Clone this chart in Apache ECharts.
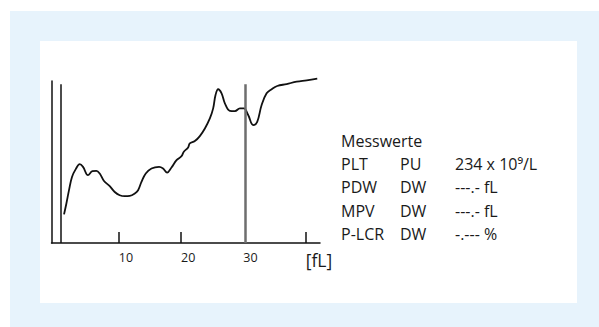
<!DOCTYPE html>
<html>
<head>
<meta charset="utf-8">
<style>
  html, body { margin: 0; padding: 0; background: #ffffff; }
  #chart { width: 599px; height: 327px; }
</style>
<script src="https://cdn.jsdelivr.net/npm/echarts@6/dist/echarts.min.js"></script>
</head>
<body>
<div id="chart"></div>
<script>
// Platelet volume distribution curve (relative count vs. volume in fL)
const volumes = [1.21, 1.59, 2.01, 2.49, 3.09, 3.73, 4.26, 5.06, 5.77, 6.41, 6.94, 7.63, 8.55, 9.35,
  10.15, 10.95, 11.76, 12.57, 13.1, 13.64, 14.33, 15.25, 16.47, 17.11, 17.76, 18.46, 19.27, 20.07,
  20.44, 21.13, 21.4, 22.21, 23.01, 23.82, 24.62, 25.15, 25.53, 25.95, 26.5, 27.03, 27.83, 28.64,
  29.44, 30.08, 30.77, 31.58, 32.22, 32.93, 33.73, 34.53, 35.43, 36.94, 38.55, 40.16, 41.86];
const counts = [17.7, 24.4, 32.6, 40.8, 45.6, 48.7, 47.0, 41.9, 44.3, 44.5, 42.9, 38.3, 35.1, 31.5,
  29.5, 28.9, 29.1, 30.6, 32.6, 37.7, 42.9, 46.0, 47.0, 46.0, 43.5, 46.6, 51.1, 53.6,
  56.3, 59.0, 61.5, 62.9, 66.0, 70.7, 76.9, 83.1, 91.3, 94.9, 92.4, 86.2, 81.6, 81.4,
  83.1, 83.1, 79.0, 72.8, 74.8, 85.2, 92.4, 94.9, 96.9, 98.1, 99.6, 100.4, 101.4];

// Lower and upper discriminator positions (fL)
const discriminators = [0.72, 30.35];
const discriminatorHeight = 98;

// Axis ticks and labels
const tickValues = [10, 20, 40];
const labelValues = [10, 20, 30, 40];
const unitLabel = '[fL]';

// Result table
const tableTitle = 'Messwerte';
const paramNames = ['PLT', 'PDW', 'MPV', 'P-LCR'];
const paramFlags = ['PU', 'DW', 'DW', 'DW'];
const paramValues = ['234 x 10\u2079/L', '---.- fL', '---.- fL', '-.--- %'];

const FONT = '"Open Sans", "Noto Sans", sans-serif';
const TEXT_COLOR = '#1a1a1a';

const chart = echarts.init(document.getElementById('chart'), null, { renderer: 'svg' });

const curve = volumes.map((v, i) => [v, counts[i]]);

const tableElements = [];
const rowYs = [141, 163.5, 187, 210.5, 234];
tableElements.push({
  type: 'text', x: 341, y: rowYs[0],
  style: { text: tableTitle, font: '16px ' + FONT, fill: TEXT_COLOR, verticalAlign: 'middle' }
});
paramNames.forEach((name, i) => {
  const y = rowYs[i + 1];
  [[341, name], [400, paramFlags[i]], [455, paramValues[i]]].forEach(([x, t]) => {
    tableElements.push({
      type: 'text', x: x, y: y,
      style: { text: t, font: '16px ' + FONT, fill: TEXT_COLOR, verticalAlign: 'middle' }
    });
  });
});

chart.setOption({
  animation: false,
  backgroundColor: '#ffffff',
  graphic: [
    { type: 'rect', z: -10, shape: { x: 10, y: 11, width: 589, height: 316 }, style: { fill: '#e7f3fc' }, silent: true },
    { type: 'rect', z: -9, shape: { x: 40, y: 41, width: 537, height: 262 }, style: { fill: '#ffffff' }, silent: true }
  ].concat(tableElements),
  grid: { left: 51.5, right: 279, top: 81, bottom: 84, containLabel: false },
  xAxis: {
    type: 'value',
    min: -0.8,
    max: 42.3,
    axisLine: { show: true, onZero: false, lineStyle: { color: '#111', width: 1.5 } },
    splitLine: { show: false },
    axisTick: { show: true, inside: true, length: 11, customValues: tickValues, lineStyle: { color: '#111', width: 1.5 } },
    axisLabel: {
      show: true,
      customValues: labelValues,
      align: 'left',
      margin: 8,
      color: TEXT_COLOR,
      fontFamily: FONT,
      fontSize: 12.5,
      formatter: v => (v === 40 ? '{u|' + unitLabel + '}' : String(v)),
      rich: { u: { fontSize: 17.5, fontFamily: FONT, color: TEXT_COLOR, padding: [0, 0, 3, 0] } }
    }
  },
  yAxis: {
    type: 'value',
    min: 0,
    max: 100,
    axisLine: { show: true, onZero: false, lineStyle: { color: '#111', width: 1.5 } },
    axisTick: { show: false },
    axisLabel: { show: false },
    splitLine: { show: false }
  },
  series: [{
    type: 'line',
    data: curve,
    smooth: 0.4,
    clip: false,
    showSymbol: false,
    lineStyle: { color: '#111', width: 1.8 },
    markLine: {
      silent: true,
      symbol: 'none',
      label: { show: false },
      data: [
        [{ coord: [discriminators[0], 0], lineStyle: { color: '#111', width: 1.5, type: 'solid' } },
         { coord: [discriminators[0], discriminatorHeight] }],
        [{ coord: [discriminators[1], 0], lineStyle: { color: '#6e6e6e', width: 2.5, type: 'solid' } },
         { coord: [discriminators[1], discriminatorHeight] }]
      ]
    }
  }]
});
</script>
</body>
</html>
